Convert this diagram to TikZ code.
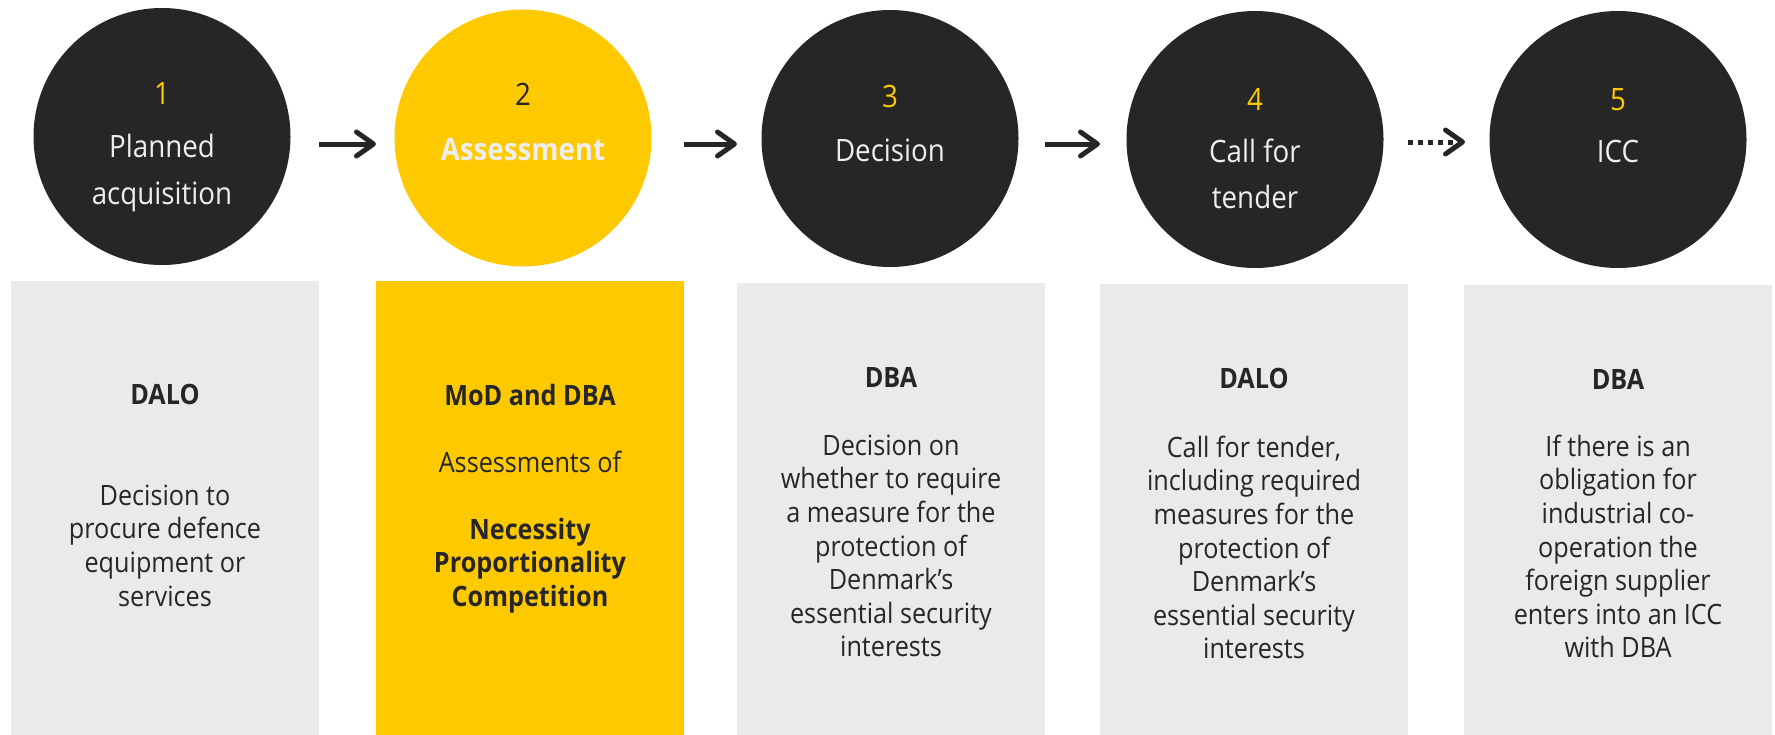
\documentclass[tikz,border=0pt]{standalone}
\usepackage{fontspec}
\setmainfont{Open Sans}[FakeStretch=0.9]
\usetikzlibrary{arrows.meta}
\definecolor{dark}{HTML}{262626}
\definecolor{yel}{HTML}{FFC900}
\definecolor{panelgrey}{HTML}{EAEAEA}
\definecolor{ctxt}{HTML}{EEEEEE}
\definecolor{txt}{HTML}{262626}
\newcommand{\sr}{\rule{0pt}{0.8em}}
\begin{document}
\begin{tikzpicture}[x=1pt,y=-1pt,
  circ/.style={circle, fill=dark, minimum size=257pt, inner sep=0pt},
  panel/.style={fill=panelgrey, minimum width=308pt, minimum height=455pt, inner sep=0pt, anchor=north west},
  ctext/.style={text=ctxt, font=\fontsize{30.8}{47}\selectfont, align=center, anchor=base, inner sep=0pt},
  num/.style={text=yel, font=\fontsize{30.8}{36}\selectfont, anchor=base, inner sep=0pt},
  head/.style={text=txt, font=\bfseries\fontsize{28}{33.6}\selectfont, anchor=base, inner sep=0pt},
  body/.style={text=txt, font=\fontsize{28}{33.6}\selectfont, align=center, anchor=north, inner sep=0pt},
  arr/.style={draw=dark, line width=5pt, -{Straight Barb[length=17pt, width=24pt, round]}},
]
\useasboundingbox (0,0) rectangle (1775,734);

% panels
\node[panel] (b1) at (11,281) {};
\node[panel, fill=yel] (b2) at (376,281) {};
\node[panel] (b3) at (737,283) {};
\node[panel] (b4) at (1100,284) {};
\node[panel] (b5) at (1464,285) {};

% circles
\node[circ] (c1) at (162,136.5) {};
\node[circ, fill=yel] (c2) at (523,138) {};
\node[circ] (c3) at (890,138.5) {};
\node[circ] (c4) at (1255,139.5) {};
\node[circ] (c5) at (1618,139.5) {};

% circle texts
\node[num] (n1) at (162,104) {1};
\node[ctext] (t1a) at (162,157) {Planned};
\node[ctext] (t1b) at (162,204) {acquisition};
\node[num, text=txt] (n2) at (523,105) {2};
\node[ctext, font=\bfseries\fontsize{30.8}{47}\selectfont] (t2) at (523,160) {Assessment};
\node[num] (n3) at (890,107) {3};
\node[ctext] (t3) at (890,161) {Decision};
\node[num] (n4) at (1255,110) {4};
\node[ctext] (t4a) at (1255,162) {Call for};
\node[ctext] (t4b) at (1255,208) {tender};
\node[num] (n5) at (1618,110) {5};
\node[ctext] (t5) at (1618,162) {ICC};

% panel texts
\node[head] (h1) at (165,404) {DALO};
\node[body] (p1) at (165,505-22.4) {\sr Decision to\\procure defence\\equipment or\\services};

\node[head] (h2) at (530,405) {MoD and DBA};
\node[body] (p2a) at (530,472-22.4) {\sr Assessments of};
\node[body, font=\bfseries\fontsize{28}{33.6}\selectfont] (p2b) at (530,539-22.4) {\sr Necessity\\Proportionality\\Competition};

\node[head] (h3) at (891,387) {DBA};
\node[body] (p3) at (891,455-22.4) {\sr Decision on\\whether to require\\a measure for the\\protection of\\Denmark’s\\essential security\\interests};

\node[head] (h4) at (1254,388) {DALO};
\node[body] (p4) at (1254,457-22.4) {\sr Call for tender,\\including required\\measures for the\\protection of\\Denmark’s\\essential security\\interests};

\node[head] (h5) at (1618,389) {DBA};
\node[body] (p5) at (1618,456-22.4) {\sr If there is an\\obligation for\\industrial co-\\operation the\\foreign supplier\\enters into an ICC\\with DBA};

% arrows
\coordinate (a1s) at (319,144); \coordinate (a1e) at (376,144);
\coordinate (a2s) at (684,144); \coordinate (a2e) at (737,144);
\coordinate (a3s) at (1045,144); \coordinate (a3e) at (1100,144);
\coordinate (a4s) at (1408,142); \coordinate (a4e) at (1465,142);
\draw[arr] (a1s) -- (a1e);
\draw[arr] (a2s) -- (a2e);
\draw[arr] (a3s) -- (a3e);
\draw[arr, dash pattern=on 5pt off 5pt] (a4s) -- (a4e);
\end{tikzpicture}
\end{document}
